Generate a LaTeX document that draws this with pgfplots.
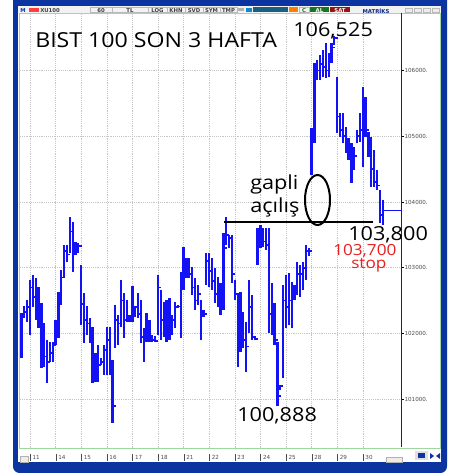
\documentclass[border=0pt]{standalone}
\usepackage{fontspec}
\setmainfont{Open Sans}
\newfontfamily\annf[FakeStretch=1.12]{Open Sans}
\newfontfamily\dv{DejaVu Sans}
\usepackage{pgfplots}
\usepackage{pgfplotstable}
\pgfplotsset{compat=1.18}
\definecolor{frameblue}{RGB}{12,52,160}
\definecolor{barblue}{RGB}{18,18,245}
\definecolor{borderg}{RGB}{160,215,160}
\definecolor{redtxt}{RGB}{232,32,32}
\definecolor{tealbox}{RGB}{26,94,128}
\definecolor{satred}{RGB}{150,20,20}
\definecolor{algreen}{RGB}{20,120,30}
\pgfdeclareplotmark{rtick}{\pgfpathmoveto{\pgfqpoint{0pt}{0pt}}\pgfpathlineto{\pgfqpoint{2.4pt}{0pt}}\pgfusepathqstroke}
\newcommand\dl[1]{\vrule height 4.2pt depth 0.8pt width 0.5pt\hspace{1.5pt}#1}

\pgfplotstableread{
h hi lo cl
-3 102311 101626 102300
-2 102418 102235 102330
-1 102509 102174 102400
0 102813 101976 102700
1 102889 102402 102550
2 102844 102205 102420
3 102707 102083 102200
4 102463 101474 101800
5 102159 101489 101650
6 101900 101246 101560
7 101870 101565 101700
8 101870 101565 101820
9 102205 101824 102100
10 102631 101931 102550
11 102966 102433 102850
12 103346 102844 103250
13 103346 103087 103200
14 103772 103224 103550
15 103696 102935 103330
16 103392 103194 103340
17 103377 103224 103330
18 103042 102128 102450
19 102616 101855 102200
20 102418 101976 102150
21 102235 101855 102000
22 102098 101246 101500
23 101702 101261 101600
24 101824 101261 101520
25 101626 101520 101560
26 101824 101367 101750
27 102098 101367 101900
28 102098 101367 101500
29 101596 100637 100900
30 102433 101778 102200
31 102281 101824 102150
32 102813 102098 102500
33 102616 101931 102200
34 102509 102174 102200
35 102281 102174 102210
36 102722 102174 102350
37 102418 102250 102400
38 102616 102235 102300
39 102509 101855 101950
40 102083 101565 101900
41 102311 101870 102000
42 102205 101870 101900
43 101976 101870 101900
44 101961 101870 101890
45 102889 101976 102700
46 102661 101900 102200
47 102479 101946 102300
48 102509 101870 102000
49 102539 101900 102100
50 102281 101976 102200
51 102479 102083 102400
52 102433 102387 102410
53 102935 101931 102800
54 103316 102661 103100
55 103148 102844 102950
56 103148 102844 102900
57 103011 102585 102700
58 102844 102357 102500
59 102737 102433 102600
60 102509 101900 102300
61 102357 102250 102300
62 103224 102737 103100
63 103224 102707 102950
64 103148 102661 102800
65 102996 102463 102600
66 102859 102402 102500
67 102768 102281 102400
68 103529 102357 103300
69 103772 103346 103500
70 103498 103300 103450
71 103498 102768 102900
72 102813 102509 102600
73 102616 101489 102100
74 102631 101718 102200
75 102326 101778 101900
76 102174 101413 101800
77 102813 102007 102400
78 102585 101900 101950
79 101961 101900 101920
80 103605 103042 103400
81 103650 103300 103450
82 103605 103316 103400
83 103605 103270 103350
84 103605 102007 102300
85 102768 101976 102300
86 102463 101824 101900
87 101870 100888 101050
88 101215 101139 101200
89 102737 101322 102500
90 102889 102083 102400
91 102920 102128 102500
92 102783 102083 102650
93 102737 102509 102650
94 103087 102585 102900
95 103042 102555 102900
96 103087 102661 103000
97 103346 102813 103250
98 103300 103179 103250
99 105127 104411 105000
100 106116 104899 106000
101 106162 105857 106000
102 106238 105857 106100
103 106314 105903 106050
104 106421 105888 106000
105 106268 105903 106150
106 106421 106116 106350
107 106525 106390 106500
108 105903 105051 105300
109 105355 104990 105100
110 105355 104899 105000
111 105142 104746 104850
112 104975 104640 104750
113 104899 104290 104650
114 104838 104488 104700
115 105096 104899 105000
116 105355 104914 105100
117 105751 104533 105300
118 105599 104990 105100
119 105066 104685 104950
120 104990 104229 104500
121 104792 104229 104300
122 104488 104183 104250
123 104183 103681 103800
124 104031 103650 103870
}\bars

\begin{document}
\begin{tikzpicture}[x=0.75pt,y=-0.75pt]
\useasboundingbox (0,0) rectangle (465,473);
\fill[white] (0,0) rectangle (465,473);
\fill[frameblue, rounded corners=5pt] (13,-12) rectangle (447,473);
\fill[white] (18,6.5) rectangle (441,462);
% toolbar
\fill[gray!10] (18,6.5) rectangle (441,13);
\tikzset{tf/.style={inner sep=0pt, font=\dv\bfseries\fontsize{4}{4}\selectfont, text=black!75}}
\node[tf, text=frameblue, anchor=west] at (20,10.2) {M};
\fill[red!75!white] (29,8) rectangle (39,12);
\node[tf, anchor=west] at (40,10.2) {XU100};
\foreach \a/\b/\t in {90/112/60,112/148/TL,148/167/LOG,167/185/KHN,185/203/SVD,203/220/SYM,220/237/TMP}{
  \draw[gray!55, line width=0.3pt] (\a,7.5) rectangle (\b,12.5);
  \node[tf] at ({(\a+\b)/2},10.2) {\t};
}
\fill[gray!60] (238,8.5) rectangle (244,11.5);
\fill[cyan!70!blue] (246,8) rectangle (252,12);
\fill[tealbox] (253,7.5) rectangle (288,12.5);
\fill[orange] (289,7.5) rectangle (298,12.5);
\draw[gray!55, line width=0.3pt] (299,7.5) rectangle (309,12.5);
\node[tf, text=algreen] at (304,10.2) {C};
\fill[algreen] (310,7.5) rectangle (329,12.5);
\node[tf, text=white] at (319.5,10.2) {AL};
\fill[satred] (330,7.5) rectangle (350,12.5);
\node[tf, text=white] at (340,10.2) {SAT};
\node[tf, text=frameblue!80!black] at (376,10.6) {MATRİKS};
\foreach \a in {405,414,423,432}{\draw[gray!55, line width=0.3pt, fill=gray!15] (\a,8) rectangle (\a+7,12.5);}
% plot area border
\draw[borderg, line width=0.7pt] (19.5,13.5) rectangle (440.5,448);
% bottom strip widgets
\draw[gray!60, fill=gray!15, line width=0.3pt] (20,456) rectangle (28,462);
\draw[gray!60, fill=gray!15, line width=0.3pt] (386,457) rectangle (402,462);
\fill[gray!25] (415,451) rectangle (428,460);
\fill[frameblue] (418,453) rectangle (425,458);
\fill[frameblue] (430,453) -- (434,456) -- (430,459) -- cycle;
\fill[frameblue] (440,453) -- (436,456) -- (440,459) -- cycle;

\begin{axis}[
  at={(15pt,-336pt)}, anchor=south west,
  width=285.75pt, height=326.25pt, scale only axis,
  xmin=-3.516, xmax=130.44, ymin=100256, ymax=106877,
  axis line style={draw=none},
  xtick={0,9,...,117},
  xticklabels={\dl{11},\dl{14},\dl{15},\dl{16},\dl{17},\dl{18},\dl{21},\dl{22},\dl{23},\dl{24},\dl{25},\dl{28},\dl{29},\dl{30}},
  ytick={101000,102000,103000,104000,105000,106000},
  yticklabels={101000.,102000.,103000.,104000.,105000.,106000.},
  grid=major,
  major grid style={densely dotted, gray!45, line width=0.4pt},
  xtick pos=left, ytick pos=right,
  xticklabel pos=left, yticklabel pos=right,
  xtick style={draw=none},
  ytick style={black, line width=0.4pt},
  major tick length=2pt, tick align=outside,
  x tick label style={font=\dv\fontsize{4.2}{5}\selectfont, text=black!70, anchor=north west, inner sep=0pt, yshift=-2.2pt, xshift=-0.2pt},
  y tick label style={font=\dv\fontsize{4.2}{5}\selectfont, text=black!70, anchor=west, inner sep=0pt, xshift=0.5pt},
]
\addplot[draw=none, forget plot, error bars/.cd, y dir=both, y explicit, error mark=none,
  error bar style={draw=barblue, solid, line width=1.7pt}]
  table[x=h, y expr={0.5*(\thisrow{hi}+\thisrow{lo})},
        y error plus expr={0.5*(\thisrow{hi}-\thisrow{lo})},
        y error minus expr={0.5*(\thisrow{hi}-\thisrow{lo})}] {\bars};
\addplot[only marks, mark=rtick, mark options={draw=barblue, line width=1.3pt}] table[x=h, y=cl] {\bars};
\addplot[black, line width=1.4pt] coordinates {(68.2,103696) (120.6,103696)};
\addplot[barblue, line width=1pt] coordinates {(124.5,103870) (130.44,103870)};
\end{axis}

\draw[black!85, line width=0.6pt] (401.5,13.5) -- (401.5,447);
\draw[black, line width=1.5pt] (317.5,200) ellipse [x radius=12.5, y radius=25];

\tikzset{ann/.style={anchor=base west, inner sep=0pt, font=\annf\fontsize{14.5}{15}\selectfont}}
\node[ann, font=\annf\fontsize{15.5}{16}\selectfont] at (35,48) {BIST 100 SON 3 HAFTA};
\node[ann] at (293,37) {106,525};
\node[ann] at (250,190) {gapli};
\node[ann] at (250,213) {açılış};
\node[ann] at (348,241) {103,800};
\node[ann, text=redtxt, font=\annf\fontsize{11.5}{12}\selectfont] at (333,256) {103,700};
\node[ann, text=redtxt, font=\annf\fontsize{11.5}{12}\selectfont] at (351,268) {stop};
\node[ann] at (237,421) {100,888};
\end{tikzpicture}
\end{document}
